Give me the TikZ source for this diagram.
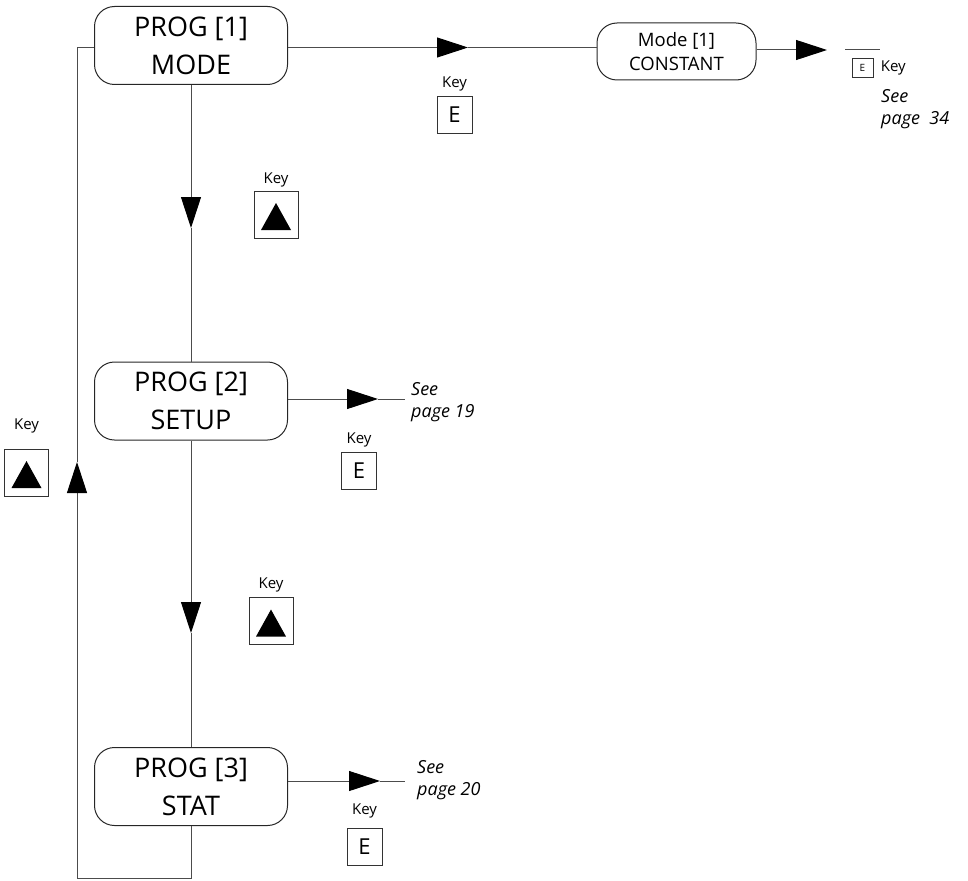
\documentclass[tikz,border=0pt]{standalone}
\usepackage{fontspec}
\setmainfont{Open Sans}
\usetikzlibrary{shapes.geometric, arrows.meta, positioning}
\tikzstyle{prog}=[draw=black!85,line width=1pt,rounded corners=20pt,minimum width=193pt,minimum height=78pt,inner sep=0pt,align=center,font=\fontsize{27}{38}\selectfont]
\tikzstyle{modebox}=[draw=black!85,line width=1pt,rounded corners=20pt,minimum width=159pt,minimum height=57pt,inner sep=0pt,align=center,font=\fontsize{18.5}{24}\selectfont]
\tikzstyle{ekey}=[draw=black!80,line width=0.8pt,minimum width=35pt,minimum height=37pt,inner sep=0pt,font=\fontsize{22}{22}\selectfont]
\tikzstyle{upkey}=[draw=black!80,line width=0.8pt,minimum width=44pt,minimum height=47pt,inner sep=0pt,
  path picture={\fill ([shift={(0pt,11.5pt)}]path picture bounding box.center) -- ([shift={(-15pt,-15.5pt)}]path picture bounding box.center) -- ([shift={(15pt,-15.5pt)}]path picture bounding box.center) -- cycle;}]
\tikzstyle{keylabel}=[font=\fontsize{15}{15}\selectfont]
\tikzstyle{see}=[inner sep=0pt,align=left,anchor=north west,font=\itshape\fontsize{18}{22}\selectfont]
\tikzstyle{flow}=[draw=black!70,line width=1pt]

\begin{document}
\begin{tikzpicture}[x=1pt,y=-1pt,>={Triangle[length=31pt,width=20pt,black]}]
  \useasboundingbox (0,0) rectangle (968,880);
  % program steps
  \node[prog] (p1) at (191,45.5) {PROG [1]\\MODE};
  \node[prog] (p2) at (191,401) {PROG [2]\\SETUP};
  \node[prog] (p3) at (191,786.5) {PROG [3]\\STAT};
  \node[modebox] (m1) at (676.5,51.5) {Mode [1]\\CONSTANT};
  % keys
  \node[ekey] (ke1) at (454.5,114.5) {E};
  \node[keylabel, above=1pt of ke1] {Key};
  \node[upkey] (ku1) at (276,214.5) {};
  \node[keylabel, above=0pt of ku1] {Key};
  \node[ekey] (ke2) at (359,470.5) {E};
  \node[keylabel, above=1pt of ke2] {Key};
  \node[upkey] (ku0) at (26.5,472.5) {};
  \node[keylabel, above=12pt of ku0] {Key};
  \node[upkey] (ku2) at (271,621) {};
  \node[keylabel, above=1pt of ku2] {Key};
  \node[ekey] (ke3) at (364.5,846.5) {E};
  \node[keylabel, above=6pt of ke3] {Key};
  \node[draw=black!80,line width=0.7pt,minimum width=21pt,minimum height=19pt,inner sep=0pt,font=\fontsize{10}{10}\selectfont] (ke0) at (862.5,67.5) {E};
  \node[keylabel, right=4pt of ke0] {Key};
  % page references
  \node[see] (s34) at (881,89) {See\\page~~34};
  \node[see] (s19) at (411,382) {See\\page 19};
  \node[see] (s20) at (417,760) {See\\page 20};
  % arrows
  \coordinate (a1) at (468,47.5);
  \coordinate (a2) at (827,50);
  \coordinate (t1) at (845,50);
  \coordinate (t2) at (880,50);
  \coordinate (a3) at (378,399);
  \coordinate (e3) at (405,399);
  \coordinate (a5) at (380,781);
  \coordinate (e5) at (405,781);
  \coordinate (a4) at (191,228);
  \coordinate (a6) at (191,633);
  \coordinate (lb) at (77,878.5);
  \coordinate (a7) at (77,462);
  \draw[flow,->] (p1.east |- a1) -- (a1);
  \draw[flow] (a1) -- (a1 -| m1.west);
  \draw[flow,->] (m1.east |- a2) -- (a2);
  \draw[flow] (t1) -- (t2);
  \draw[flow,->] (p2.east |- a3) -- (a3);
  \draw[flow] (a3) -- (e3);
  \draw[flow,->] (p3.east |- a5) -- (a5);
  \draw[flow] (a5) -- (e5);
  \draw[flow,->] (p1.south) -- (a4);
  \draw[flow] (a4) -- (p2.north);
  \draw[flow,->] (p2.south) -- (a6);
  \draw[flow] (a6) -- (p3.north);
  \draw[flow] (p3.south) |- (lb);
  \draw[flow,->] (lb) -- (a7);
  \draw[flow] (a7) |- (p1.west |- a1);
\end{tikzpicture}
\end{document}
